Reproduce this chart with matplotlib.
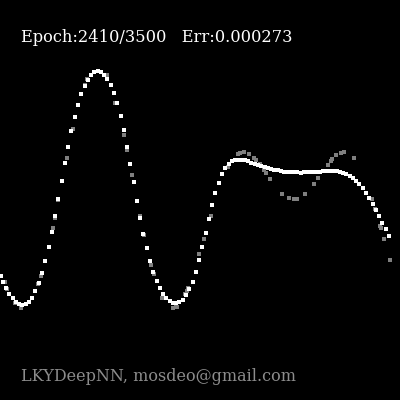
import numpy as np
import matplotlib
matplotlib.use('Agg')
import matplotlib.pyplot as plt

# network output (white) - x in 0..4, y in -2..2
pred_x = [0.007, 0.033, 0.063, 0.093, 0.133, 0.163, 0.193, 0.223, 0.263, 0.293,
          0.323, 0.353, 0.393, 0.423, 0.453, 0.493, 0.523, 0.553, 0.583, 0.623,
          0.653, 0.683, 0.713, 0.753, 0.783, 0.813, 0.853, 0.883, 0.913, 0.943,
          0.983,
          1.013, 1.043, 1.073, 1.113, 1.143, 1.173, 1.213, 1.243, 1.273,
          1.303, 1.343, 1.373, 1.403, 1.433, 1.473, 1.503, 1.533, 1.573, 1.603,
          1.633, 1.663, 1.703, 1.733, 1.763, 1.793, 1.833, 1.863, 1.893, 1.933,
          1.963, 1.993,
          2.023, 2.063, 2.093, 2.123, 2.153, 2.193, 2.223, 2.253,
          2.293, 2.323, 2.353, 2.383, 2.423, 2.453, 2.483, 2.513, 2.553, 2.583,
          2.613, 2.653, 2.683, 2.713, 2.743, 2.783, 2.813, 2.843, 2.873, 2.913,
          2.943, 2.973,
          3.013, 3.043, 3.073, 3.103, 3.143, 3.173, 3.203, 3.233,
          3.273, 3.303, 3.333, 3.373, 3.403, 3.433, 3.463, 3.503, 3.533, 3.563,
          3.593, 3.633, 3.663, 3.693, 3.733, 3.763, 3.793, 3.823, 3.863, 3.893]
pred_y = [-0.763, -0.823, -0.883, -0.943, -0.983, -1.023, -1.043, -1.053, -1.043, -1.023,
          -0.983, -0.913, -0.833, -0.733, -0.613, -0.473, -0.323, -0.163, 0.007, 0.187,
          0.367, 0.527, 0.687, 0.827, 0.947, 1.057, 1.140, 1.197, 1.247, 1.277,
          1.287,
          1.277, 1.247, 1.207, 1.147, 1.067, 0.967, 0.837, 0.697, 0.527,
          0.357, 0.177, -0.013, -0.183, -0.343, -0.483, -0.613, -0.723, -0.813, -0.883,
          -0.943, -0.983, -1.013, -1.033, -1.033, -1.023, -1.003, -0.953, -0.893, -0.823,
          -0.723, -0.603,
          -0.473, -0.333, -0.193, -0.053, 0.067, 0.167, 0.257, 0.317,
          0.357, 0.390, 0.397, 0.397, 0.397, 0.397, 0.387, 0.367, 0.357, 0.347,
          0.337, 0.327, 0.317, 0.307, 0.297, 0.297, 0.287, 0.277, 0.277, 0.277,
          0.277, 0.277,
          0.267, 0.277, 0.277, 0.277, 0.277, 0.277, 0.277, 0.287,
          0.287, 0.287, 0.287, 0.287, 0.277, 0.267, 0.257, 0.237, 0.217, 0.187,
          0.157, 0.117, 0.067, 0.017, -0.043, -0.103, -0.163, -0.233, -0.293, -0.363]

# training samples (gray)
data_x = [0.053, 0.073, 0.153, 0.213, 0.383, 0.413, 0.533, 0.553, 0.583, 0.673,
          0.733, 0.853, 0.873, 1.073, 1.153, 1.243, 1.273, 1.323, 1.403, 1.443,
          1.513, 1.543, 1.623, 1.733, 1.763, 1.773, 1.853, 1.873, 1.883, 1.993,
          2.043, 2.113, 2.283, 2.383, 2.403, 2.443, 2.493, 2.543, 2.563, 2.603,
          2.643, 2.663, 2.703, 2.823, 2.893, 2.943, 2.973, 3.053, 3.143, 3.183,
          3.283, 3.313, 3.323, 3.363, 3.413, 3.443, 3.543, 3.723, 3.753, 3.803,
          3.813, 3.843, 3.903]
data_y = [-0.823, -0.893, -1.033, -1.083, -0.843, -0.763, -0.283, -0.183, -0.003, 0.417,
          0.707, 1.150, 1.207, 1.247, 0.967, 0.647, 0.497, 0.253, -0.163, -0.353,
          -0.653, -0.743, -0.983, -1.083, -1.073, -1.073, -0.943, -0.913, -0.883, -0.543,
          -0.393, -0.163, 0.327, 0.457, 0.467, 0.477, 0.457, 0.417, 0.397, 0.357,
          0.297, 0.267, 0.207, 0.057, 0.017, 0.007, 0.007, 0.057, 0.157, 0.217,
          0.347, 0.387, 0.407, 0.447, 0.467, 0.477, 0.417, 0.007, -0.093, -0.263,
          -0.283, -0.393, -0.603]

epoch = 2410
epochs = 3500
err = 0.000273

fig = plt.figure(figsize=(4, 4), dpi=100, facecolor='black')
ax = fig.add_axes([0, 0, 1, 1])
ax.set_facecolor('black')
ax.set_xlim(0, 4)
ax.set_ylim(-2, 2)
ax.axis('off')

ax.plot(data_x, data_y, 's', color='#7f7f7f', ms=2.3, mew=0, ls='none')
ax.plot(pred_x, pred_y, 's', color='white', ms=2.4, mew=0, ls='none')

fig.text(21/400, 1 - 42/400, "Epoch:%d/%d   Err:%.6f" % (epoch, epochs, err),
         color='white', fontsize=11.7, family='DejaVu Serif', va='baseline')
fig.text(21/400, 1 - 381/400, "LKYDeepNN, mosdeo@gmail.com",
         color='#8c8c8c', fontsize=11.5, family='DejaVu Serif', va='baseline')

fig.savefig('out.png', dpi=100, facecolor='black')
